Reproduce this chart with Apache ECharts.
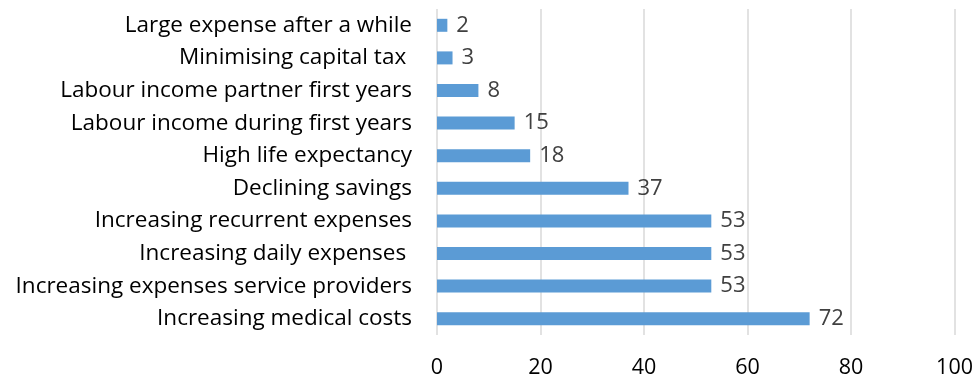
<!DOCTYPE html>
<html><head><meta charset="utf-8">
<script src="https://cdn.jsdelivr.net/npm/echarts@6/dist/echarts.min.js"></script>
<style>html,body{margin:0;padding:0;background:#fff}#c{width:976px;height:383px}</style>
</head><body><div id="c"></div>
<script>
const categories = ["Increasing medical costs","Increasing expenses service providers","Increasing daily expenses ","Increasing recurrent expenses","Declining savings","High life expectancy","Labour income during first years","Labour income partner first years","Minimising capital tax ","Large expense after a while"];
const values = [72,53,53,53,37,18,15,8,3,2];
const xTicks = [0,20,40,60,80,100];
const font = "'Open Sans', sans-serif";
const chart = echarts.init(document.getElementById('c'));
chart.setOption({
  animation:false,
  grid:{left:437,right:21,top:9,bottom:48,containLabel:false},
  xAxis:{type:'value',min:xTicks[0],max:xTicks[xTicks.length-1],interval:20,
    axisLine:{show:false},axisTick:{show:false},
    splitLine:{lineStyle:{color:'#d9d9d9',width:1.5}},
    axisLabel:{color:'#000',fontSize:21.5,fontFamily:font,margin:22}},
  yAxis:{type:'category',data:categories,
    axisLine:{show:false},axisTick:{show:false},
    axisLabel:{color:'#000',fontSize:22.5,fontFamily:font,margin:25}},
  series:[{type:'bar',data:values,barWidth:13,itemStyle:{color:'#5b9bd5'},
    label:{show:true,position:'right',distance:9,color:'#404040',fontSize:22,fontFamily:font}}]
});
</script></body></html>
